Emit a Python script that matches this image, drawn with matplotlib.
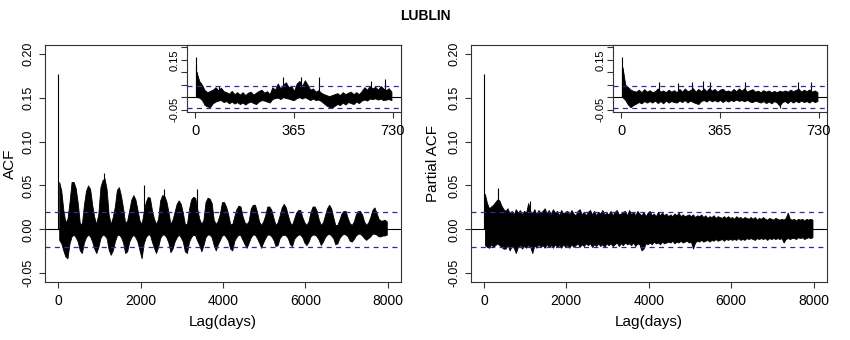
import numpy as np
import matplotlib.pyplot as plt

plt.rcParams['font.family'] = ['Liberation Sans', 'DejaVu Sans']

# ---- data ----
# main panels: envelope (max / min) of the correlogram per 50-lag bin, lags 0..8000
bin_main = 50
acf_hi = [0.054, 0.044, 0.022, 0.008, 0.012, 0.031, 0.054, 0.054, 0.047, 0.030,
          0.007, 0.006, 0.028, 0.044, 0.050, 0.046, 0.028, 0.014, 0.006, 0.018,
          0.048, 0.056, 0.058, 0.046, 0.017, 0.006, 0.014, 0.026, 0.045, 0.048,
          0.038, 0.024, 0.007, 0.010, 0.022, 0.034, 0.039, 0.034, 0.022, 0.010,
          0.006, 0.020, 0.031, 0.037, 0.036, 0.022, 0.012, 0.006, 0.012, 0.033,
          0.039, 0.038, 0.032, 0.020, 0.006, 0.011, 0.020, 0.029, 0.033, 0.029,
          0.019, 0.006, 0.006, 0.023, 0.034, 0.037, 0.036, 0.023, 0.012, 0.006,
          0.011, 0.031, 0.036, 0.035, 0.030, 0.011, 0.006, 0.010, 0.018, 0.031,
          0.031, 0.026, 0.017, 0.006, 0.006, 0.015, 0.023, 0.027, 0.026, 0.015,
          0.008, 0.006, 0.010, 0.024, 0.028, 0.028, 0.020, 0.009, 0.005, 0.009,
          0.016, 0.026, 0.026, 0.022, 0.013, 0.005, 0.008, 0.016, 0.025, 0.029,
          0.025, 0.016, 0.008, 0.005, 0.012, 0.019, 0.022, 0.022, 0.014, 0.008,
          0.005, 0.009, 0.020, 0.026, 0.026, 0.021, 0.011, 0.005, 0.008, 0.016,
          0.024, 0.028, 0.024, 0.014, 0.005, 0.005, 0.011, 0.018, 0.021, 0.021,
          0.013, 0.007, 0.005, 0.009, 0.017, 0.021, 0.021, 0.017, 0.009, 0.005,
          0.008, 0.014, 0.022, 0.025, 0.019, 0.012, 0.010, 0.010, 0.011, 0.009]
acf_lo = [-0.012, -0.016, -0.024, -0.031, -0.033, -0.016, -0.008, -0.006, -0.009, -0.014,
          -0.024, -0.027, -0.015, -0.009, -0.006, -0.008, -0.014, -0.022, -0.027, -0.020,
          -0.010, -0.006, -0.007, -0.010, -0.023, -0.029, -0.024, -0.014, -0.007, -0.006,
          -0.009, -0.015, -0.027, -0.025, -0.014, -0.009, -0.006, -0.009, -0.014, -0.024,
          -0.033, -0.016, -0.009, -0.006, -0.006, -0.014, -0.021, -0.027, -0.020, -0.010,
          -0.006, -0.006, -0.009, -0.015, -0.026, -0.022, -0.014, -0.009, -0.006, -0.009,
          -0.014, -0.025, -0.027, -0.014, -0.009, -0.006, -0.007, -0.013, -0.018, -0.025,
          -0.018, -0.009, -0.006, -0.006, -0.009, -0.018, -0.024, -0.017, -0.012, -0.007,
          -0.006, -0.009, -0.013, -0.022, -0.024, -0.013, -0.009, -0.006, -0.007, -0.012,
          -0.017, -0.021, -0.015, -0.009, -0.006, -0.006, -0.010, -0.015, -0.021, -0.015,
          -0.010, -0.006, -0.006, -0.008, -0.012, -0.019, -0.018, -0.010, -0.007, -0.006,
          -0.007, -0.010, -0.017, -0.019, -0.011, -0.008, -0.006, -0.006, -0.009, -0.015,
          -0.018, -0.014, -0.008, -0.006, -0.006, -0.008, -0.012, -0.018, -0.014, -0.009,
          -0.006, -0.005, -0.007, -0.010, -0.017, -0.016, -0.010, -0.007, -0.005, -0.006,
          -0.008, -0.013, -0.014, -0.011, -0.007, -0.005, -0.005, -0.007, -0.010, -0.012,
          -0.010, -0.008, -0.005, -0.005, -0.006, -0.008, -0.008, -0.007, -0.007, -0.006]
acf_spike_lags = [1, 1120, 2080, 2560, 3370]
acf_spike_vals = [0.177, 0.064, 0.050, 0.046, 0.046]

pacf_hi = [0.040, 0.030, 0.024, 0.026, 0.028, 0.031, 0.034, 0.033, 0.027, 0.023,
           0.021, 0.024, 0.018, 0.021, 0.017, 0.023, 0.019, 0.022, 0.017, 0.021,
           0.019, 0.030, 0.021, 0.018, 0.023, 0.017, 0.022, 0.019, 0.021, 0.024,
           0.018, 0.022, 0.017, 0.023, 0.019, 0.021, 0.016, 0.022, 0.018, 0.020,
           0.021, 0.017, 0.022, 0.018, 0.016, 0.021, 0.023, 0.017, 0.020, 0.016,
           0.020, 0.022, 0.017, 0.021, 0.016, 0.020, 0.018, 0.022, 0.017, 0.019,
           0.017, 0.021, 0.016, 0.020, 0.022, 0.017, 0.018, 0.020, 0.021, 0.016,
           0.022, 0.017, 0.020, 0.016, 0.021, 0.018, 0.016, 0.020, 0.015, 0.019,
           0.021, 0.016, 0.018, 0.015, 0.020, 0.016, 0.019, 0.016, 0.018, 0.015,
           0.017, 0.015, 0.018, 0.016, 0.019, 0.015, 0.017, 0.015, 0.016, 0.017,
           0.015, 0.017, 0.014, 0.016, 0.015, 0.017, 0.014, 0.016, 0.013, 0.015,
           0.014, 0.016, 0.013, 0.015, 0.014, 0.013, 0.015, 0.013, 0.015, 0.013,
           0.014, 0.012, 0.015, 0.013, 0.014, 0.012, 0.014, 0.013, 0.012, 0.014,
           0.012, 0.014, 0.011, 0.013, 0.012, 0.014, 0.012, 0.011, 0.013, 0.012,
           0.011, 0.013, 0.012, 0.011, 0.012, 0.011, 0.013, 0.019, 0.012, 0.011,
           0.012, 0.010, 0.012, 0.011, 0.012, 0.010, 0.012, 0.011, 0.012, 0.011]
pacf_lo = [-0.018, -0.020, -0.021, -0.017, -0.020, -0.018, -0.016, -0.018, -0.020, -0.022,
           -0.022, -0.018, -0.024, -0.019, -0.021, -0.027, -0.020, -0.018, -0.022, -0.019,
           -0.021, -0.018, -0.020, -0.027, -0.018, -0.021, -0.017, -0.020, -0.018, -0.021,
           -0.017, -0.020, -0.018, -0.021, -0.017, -0.020, -0.018, -0.021, -0.017, -0.020,
           -0.018, -0.021, -0.017, -0.020, -0.018, -0.016, -0.020, -0.017, -0.019, -0.016,
           -0.018, -0.016, -0.020, -0.017, -0.019, -0.016, -0.019, -0.017, -0.020, -0.016,
           -0.018, -0.016, -0.019, -0.017, -0.015, -0.019, -0.016, -0.018, -0.015, -0.017,
           -0.016, -0.018, -0.015, -0.019, -0.016, -0.017, -0.024, -0.022, -0.016, -0.017,
           -0.015, -0.017, -0.014, -0.016, -0.015, -0.017, -0.014, -0.016, -0.015, -0.014,
           -0.015, -0.013, -0.016, -0.014, -0.015, -0.013, -0.015, -0.014, -0.013, -0.015,
           -0.014, -0.022, -0.015, -0.013, -0.014, -0.012, -0.014, -0.013, -0.012, -0.014,
           -0.012, -0.013, -0.011, -0.013, -0.012, -0.011, -0.013, -0.011, -0.012, -0.011,
           -0.012, -0.011, -0.012, -0.010, -0.012, -0.011, -0.012, -0.010, -0.011, -0.010,
           -0.011, -0.012, -0.010, -0.011, -0.010, -0.011, -0.010, -0.012, -0.010, -0.011,
           -0.010, -0.011, -0.010, -0.011, -0.010, -0.015, -0.011, -0.010, -0.011, -0.010,
           -0.010, -0.011, -0.009, -0.010, -0.009, -0.011, -0.010, -0.009, -0.010, -0.009]
pacf_spike_lags = [1, 20, 340, 1130]
pacf_spike_vals = [0.177, 0.040, 0.047, 0.032]

# insets: first two years, envelope per 10-lag bin, lags 0..730
bin_in = 10
iacf_hi = [0.100, 0.065, 0.050, 0.028, 0.020, 0.025, 0.030, 0.040, 0.028, 0.038,
           0.024, 0.020, 0.014, 0.025, 0.012, 0.020, 0.010, 0.020, 0.008, 0.018,
           0.022, 0.010, 0.018, 0.025, 0.030, 0.018, 0.024, 0.012, 0.040, 0.030,
           0.055, 0.035, 0.050, 0.060, 0.040, 0.045, 0.025, 0.055, 0.065, 0.045,
           0.068, 0.050, 0.030, 0.035, 0.022, 0.028, 0.018, 0.012, 0.008, 0.004,
           0.008, 0.012, 0.016, 0.008, 0.020, 0.012, 0.018, 0.022, 0.012, 0.020,
           0.012, 0.025, 0.040, 0.030, 0.045, 0.035, 0.042, 0.030, 0.045, 0.035,
           0.028, 0.036, 0.022]
iacf_lo = [0.000, -0.002, -0.012, -0.032, -0.038, -0.040, -0.025, -0.018, -0.014, -0.012,
           -0.020, -0.016, -0.025, -0.018, -0.026, -0.020, -0.028, -0.022, -0.030, -0.022,
           -0.018, -0.024, -0.028, -0.018, -0.012, -0.014, -0.018, -0.022, -0.008, -0.004,
           -0.002, -0.008, 0.000, -0.004, -0.006, -0.010, -0.012, -0.004, 0.000, -0.006,
           0.000, -0.006, -0.012, -0.006, -0.012, -0.010, -0.016, -0.025, -0.034, -0.040,
           -0.044, -0.035, -0.028, -0.032, -0.022, -0.030, -0.020, -0.024, -0.028, -0.018,
           -0.024, -0.014, -0.010, -0.014, -0.006, -0.008, -0.005, -0.010, -0.006, -0.012,
           -0.010, -0.008, -0.012]
iacf_spike_lags = [2, 4, 7, 88, 325, 392, 459, 650, 700]
iacf_spike_vals = [0.160, 0.130, 0.100, 0.045, 0.080, 0.080, 0.080, 0.065, 0.072]

ipacf_hi = [0.120, 0.050, 0.040, 0.030, 0.025, 0.022, 0.030, 0.020, 0.032, 0.022,
            0.028, 0.020, 0.024, 0.035, 0.022, 0.027, 0.020, 0.030, 0.022, 0.028,
            0.020, 0.033, 0.022, 0.035, 0.024, 0.028, 0.036, 0.022, 0.033, 0.024,
            0.035, 0.024, 0.036, 0.026, 0.033, 0.022, 0.030, 0.034, 0.024, 0.027,
            0.022, 0.033, 0.024, 0.035, 0.026, 0.036, 0.022, 0.028, 0.032, 0.022,
            0.026, 0.020, 0.028, 0.022, 0.027, 0.020, 0.025, 0.020, 0.026, 0.022,
            0.027, 0.022, 0.030, 0.024, 0.029, 0.034, 0.022, 0.030, 0.024, 0.031,
            0.022, 0.027, 0.020]
ipacf_lo = [0.000, -0.012, -0.030, -0.040, -0.032, -0.026, -0.020, -0.025, -0.016, -0.022,
            -0.016, -0.022, -0.014, -0.024, -0.016, -0.025, -0.014, -0.022, -0.016, -0.020,
            -0.022, -0.014, -0.020, -0.012, -0.022, -0.014, -0.020, -0.024, -0.028, -0.016,
            -0.012, -0.018, -0.010, -0.017, -0.012, -0.018, -0.011, -0.020, -0.012, -0.018,
            -0.012, -0.016, -0.010, -0.015, -0.012, -0.017, -0.011, -0.018, -0.020, -0.014,
            -0.018, -0.022, -0.016, -0.024, -0.018, -0.025, -0.016, -0.022, -0.035, -0.020,
            -0.016, -0.024, -0.014, -0.022, -0.015, -0.021, -0.014, -0.020, -0.016, -0.022,
            -0.014, -0.020, -0.016]
ipacf_spike_lags = [2, 4, 33, 138, 211, 261, 304, 328, 457, 586, 654, 703]
ipacf_spike_vals = [0.160, 0.120, -0.040, 0.060, 0.055, 0.060, 0.065, 0.060, 0.060, -0.042, 0.060, 0.060]

ci_main = 0.020
ci_inset = 0.045
main_xticks = [0, 2000, 4000, 6000, 8000]
main_yticks = [-0.05, 0.00, 0.05, 0.10, 0.15, 0.20]
inset_xticks = [0, 365, 730]
inset_yticks = [-0.05, 0.00, 0.05, 0.10, 0.15, 0.20]
inset_ylabels = ['-0.05', '', '', '', '0.15', '']

W, H = 850, 340
fig = plt.figure(figsize=(8.5, 3.4), dpi=100)


def px(x0, y0, x1, y1):
    return [x0 / W, 1 - y1 / H, (x1 - x0) / W, (y1 - y0) / H]


def panel(ax, hi, lo, binw, sl, sv, ci, xmax, xtk, ytk, ylabs, xfs, yfs):
    centers = np.arange(len(hi)) * binw + binw / 2
    ax.fill_between(centers, lo, hi, color='black', lw=0.6)
    ax.vlines(sl, 0, sv, color='black', lw=0.8)
    ax.axhline(0, color='black', lw=0.8)
    for c in (ci, -ci):
        ax.axhline(c, color='#2a2aa8', lw=0.9, ls=(0, (4, 3.5)))
    ax.set_xlim(-0.04 * xmax, 1.04 * xmax)
    ax.set_ylim(-0.06, 0.21)
    ax.set_xticks(xtk)
    ax.set_xticklabels([str(t) for t in xtk], fontsize=xfs)
    ax.set_yticks(ytk)
    ax.set_yticklabels(ylabs, fontsize=yfs, rotation=90, va='center')
    ax.tick_params(direction='out', length=4.3, width=0.8, color='#333333')
    ax.tick_params(axis='x', pad=4)
    ax.tick_params(axis='y', pad=3)
    for s in ax.spines.values():
        s.set_linewidth(0.8)
        s.set_color('#333333')


main_ylabs = ['%.2f' % t for t in main_yticks]

ax1 = fig.add_axes(px(45, 45, 401, 282))
panel(ax1, acf_hi, acf_lo, bin_main, acf_spike_lags, acf_spike_vals, ci_main, 8000,
      main_xticks, main_yticks, main_ylabs, 10, 9)
ax1.set_xlabel('Lag(days)', fontsize=11)
ax1.xaxis.set_label_coords(0.5, -0.17)
ax1.xaxis.label.set_va('center')
ax1.set_ylabel('ACF', fontsize=11)
ax1.yaxis.set_label_coords(-0.098, 0.5)
ax1.yaxis.label.set_va('center')

ax2 = fig.add_axes(px(470.7, 45, 826.7, 282))
panel(ax2, pacf_hi, pacf_lo, bin_main, pacf_spike_lags, pacf_spike_vals, ci_main, 8000,
      main_xticks, main_yticks, main_ylabs, 10, 9)
ax2.set_xlabel('Lag(days)', fontsize=11)
ax2.xaxis.set_label_coords(0.5, -0.17)
ax2.xaxis.label.set_va('center')
ax2.set_ylabel('Partial ACF', fontsize=11)
ax2.yaxis.set_label_coords(-0.106, 0.5)
ax2.yaxis.label.set_va('center')

ax3 = fig.add_axes(px(187.3, 45, 400.7, 112))
panel(ax3, iacf_hi, iacf_lo, bin_in, iacf_spike_lags, iacf_spike_vals, ci_inset, 730,
      inset_xticks, inset_yticks, inset_ylabels, 10.5, 8)
ax3.tick_params(axis='y', pad=1.5)

ax4 = fig.add_axes(px(613.3, 45, 826.7, 112))
panel(ax4, ipacf_hi, ipacf_lo, bin_in, ipacf_spike_lags, ipacf_spike_vals, ci_inset, 730,
      inset_xticks, inset_yticks, inset_ylabels, 10.5, 8)
ax4.tick_params(axis='y', pad=1.5)

fig.text(0.5, 1 - 16 / H, 'LUBLIN', ha='center', va='center', fontsize=10, fontweight='bold')

plt.savefig('out.png', dpi=100)
